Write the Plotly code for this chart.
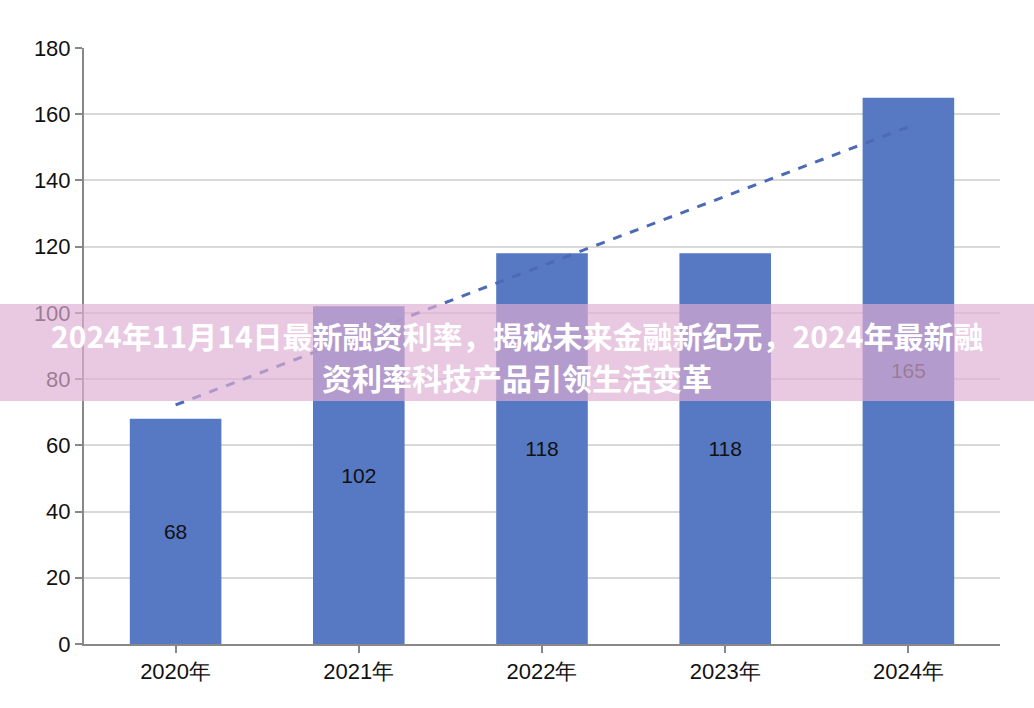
import plotly.graph_objects as go

categories = ["2020年", "2021年", "2022年", "2023年", "2024年"]
values = [68, 102, 118, 118, 165]
trend_x = ["2020年", "2024年"]
trend_y = [72.2, 156.2]
y_ticks = [0, 20, 40, 60, 80, 100, 120, 140, 160, 180]
title_lines = ["2024年11月14日最新融资利率，揭秘未来金融新纪元，2024年最新融",
               "资利率科技产品引领生活变革"]

FONT = "Liberation Sans, Arial, sans-serif"

fig = go.Figure()
fig.add_trace(go.Bar(
    x=categories, y=values,
    marker=dict(color="#5778c2", line=dict(width=0)),
    text=[str(v) for v in values],
    textposition="inside", insidetextanchor="middle",
    textfont=dict(color="#111111", size=21, family=FONT),
    constraintext="none",
    hoverinfo="skip",
))
fig.add_trace(go.Scatter(
    x=trend_x, y=trend_y, mode="lines",
    line=dict(color="#4c6ab5", width=3, dash="dash"),
    hoverinfo="skip",
))

L, R, T, B = 84, 34, 48, 64
W, H = 1034, 708
pw = W - L - R
ph = H - T - B

fig.add_shape(type="rect", xref="paper", yref="paper",
              x0=-L / pw - 0.01, x1=(W - L) / pw + 0.01,
              y0=(H - B - 401) / ph, y1=(H - B - 304) / ph,
              fillcolor="rgba(223,174,211,0.68)", line=dict(width=0), layer="above")
for line_text, py in zip(title_lines, [335, 377]):
    fig.add_annotation(xref="paper", yref="paper", x=(517 - L) / pw, y=(H - B - py) / ph,
                       text="<b>" + line_text + "</b>", showarrow=False,
                       font=dict(color="white", size=30, family="Noto Sans CJK SC"),
                       xanchor="center", yanchor="middle", align="center")

fig.update_layout(
    width=W, height=H,
    margin=dict(l=L, r=R, t=T, b=B),
    paper_bgcolor="white", plot_bgcolor="white",
    showlegend=False,
    bargap=0.5,
    xaxis=dict(
        showline=True, linecolor="#888888", linewidth=2,
        ticks="outside", tickcolor="#888888", ticklen=7, tickwidth=2,
        tickfont=dict(size=22, color="#111111", family=FONT),
        showgrid=False,
    ),
    yaxis=dict(
        range=[0, 180], tickvals=y_ticks,
        showline=True, linecolor="#888888", linewidth=2,
        ticks="outside", tickcolor="#888888", ticklen=7, tickwidth=2,
        tickfont=dict(size=22, color="#111111", family=FONT),
        showgrid=True, gridcolor="#d9d9d9", gridwidth=2,
        zeroline=False,
    ),
)
fig.write_html("out.html", config={"displayModeBar": False},
               post_script="document.body.style.margin='0';")
